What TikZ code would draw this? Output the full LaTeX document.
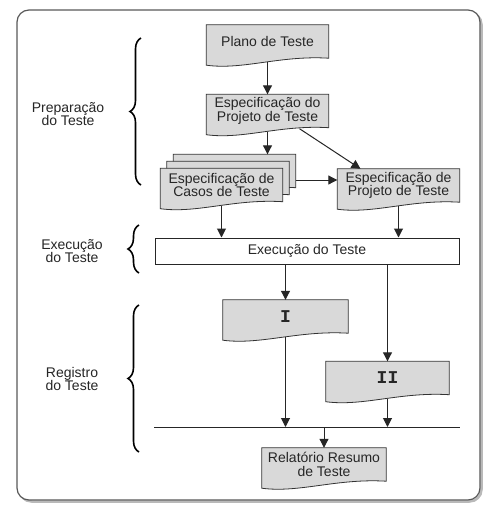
\documentclass[tikz,border=0pt]{standalone}
\usepackage{fontspec}
\setmainfont{Liberation Sans}
\newfontfamily\romfont{Liberation Mono}
\usetikzlibrary{arrows.meta,calc,backgrounds,decorations.pathreplacing}

% document sheet with a wavy lower edge, drawn round a named node
\newcommand\docshape[1]{%
  \filldraw[paper] (#1.north west) -- (#1.north east) -- (#1.south east)
    .. controls ($(#1.south west)!0.6!(#1.south east)+(0,-3)$)
    and ($(#1.south west)!0.3!(#1.south east)+(0,12)$)
    .. ($(#1.south west)+(0,7)$) -- cycle;}

\begin{document}
\begin{tikzpicture}[x=1pt, y=-1pt, >={Triangle[length=9pt,width=9pt]},
    doc/.style={minimum width=122pt, minimum height=33pt, inner sep=0pt,
        align=center, font=\fontsize{14}{13.5}\selectfont, text=black!85},
    paper/.style={fill=gray!30, draw=black!80, line width=0.8pt},
    flow/.style={->, line width=1pt, draw=black!85},
    fase/.style={decorate, decoration={brace, amplitude=11pt}, line width=1.6pt},
    fasetxt/.style={align=center, font=\fontsize{14}{13.5}\selectfont, text=black!85}]

    \useasboundingbox (0,0) rectangle (499,512);

    % documents
    \node[doc] (plano) at (267.5,41.5) {Plano de Teste};
    \node[doc] (espproj) at (267.5,111) {Especificação do\\Projeto de Teste};
    \node[doc] (casosB) at (234.5,171) {};
    \node[doc] (casosA) at (228,178) {};
    \node[doc] (casos) at (221.5,185) {Especificação de\\Casos de Teste};
    \node[doc] (direita) at (398.5,185.5) {Especificação de\\Projeto de Teste};
    \node[doc, minimum width=125pt, font=\romfont\bfseries\fontsize{18}{18}\selectfont]
        (um) at (285.5,316.5) {I};
    \node[doc, minimum width=123pt, font=\romfont\bfseries\fontsize{18}{18}\selectfont]
        (dois) at (387.5,378) {II};
    \node[doc, minimum width=124pt] (rel) at (324,464.5) {Relatório Resumo\\de Teste};

    % execution
    \node[draw=black!85, line width=1pt, fill=white, minimum width=304pt,
        minimum height=26pt, font=\fontsize{14}{14}\selectfont, text=black!85]
        (exec) at (307,251) {Execução do Teste};

    % phases
    \node[fasetxt] (prep) at (68,114) {Preparação\\do Teste};
    \node[fasetxt] (exe) at (72,251) {Execução\\do Teste};
    \node[fasetxt] (reg) at (72,379) {Registro\\do Teste};
    \draw[fase] (141,185) -- (141,38);
    \draw[fase] (139,273) -- (139,225);
    \draw[fase] (139,452) -- (139,305);

    % arrows
    \coordinate (pontoC) at ([yshift=-9pt]casosB.east);
    \coordinate (linhaE) at (154,427);
    \coordinate (linhaD) at (460,427);
    \draw[flow] ([yshift=-4pt]plano.south) -- (espproj.north);
    \draw[flow] ([yshift=-4pt]espproj.south) -- (espproj.south |- casosB.north);
    \draw[flow] ([xshift=32pt,yshift=-1pt]espproj.south) -- ([xshift=-38pt]direita.north);
    \draw[flow] (pontoC) -- (pontoC -| direita.west);
    \draw[flow] ([yshift=-4pt]casos.south) -- (casos.south |- exec.north);
    \draw[flow] ([yshift=-4pt]direita.south) -- (direita.south |- exec.north);
    \draw[flow] (exec.south -| um.north) -- (um.north);
    \draw[flow] (exec.south -| dois.north) -- (dois.north);
    \draw[flow] ([yshift=-4pt]um.south) -- (um.south |- linhaE);
    \draw[flow] ([yshift=-4pt]dois.south) -- (dois.south |- linhaE);
    \draw[line width=1pt, black!85] (linhaE) -- (linhaD);
    \draw[flow] (linhaE -| rel.north) -- (rel.north);

    \begin{pgfonlayer}{background}
        % frame
        \draw[rounded corners=12pt, line width=2.5pt, gray!55]
            (19.5,12.5) rectangle (481.5,501.5);
        \draw[rounded corners=12pt, line width=1.2pt, draw=black!65, fill=white]
            (17,10) rectangle (480,500);
        % sheets
        \docshape{plano}
        \docshape{espproj}
        \docshape{casosB}
        \docshape{casosA}
        \docshape{casos}
        \docshape{direita}
        \docshape{um}
        \docshape{dois}
        \docshape{rel}
    \end{pgfonlayer}
\end{tikzpicture}
\end{document}
